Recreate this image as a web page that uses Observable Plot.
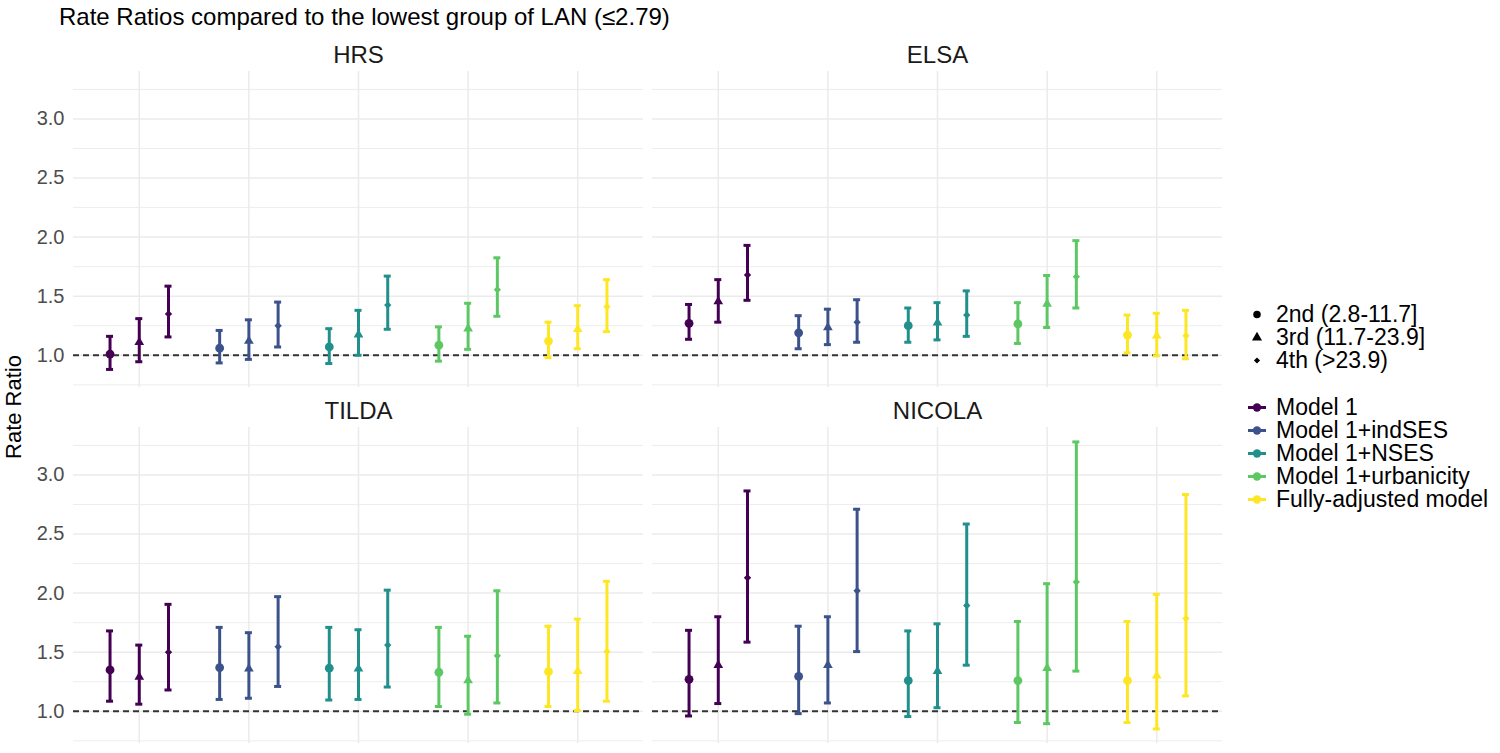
<!DOCTYPE html>
<html><head><meta charset="utf-8">
<script src="https://cdn.jsdelivr.net/npm/d3@7"></script>
<script src="https://cdn.jsdelivr.net/npm/@observablehq/plot@0.6"></script>
<style>
body{margin:0;background:#fff;font-family:"Liberation Sans",Arial,sans-serif;}
#wrap{position:relative;width:1500px;height:753px;overflow:hidden;background:#fff}
#title{height:36px;line-height:34px;padding-left:59px;font-size:24px;color:#000;white-space:nowrap}
#ylab{position:absolute;left:14px;top:407px;transform:translate(-50%,-50%) rotate(-90deg);font-size:22px;color:#000;white-space:nowrap}
.leg{position:absolute;left:1245px;font-size:23px;color:#000}
.row{height:23px;display:flex;align-items:center;white-space:nowrap}
.row svg{flex:none;margin-right:7px}
</style></head>
<body><div id="wrap">
<div id="title">Rate Ratios compared to the lowest group of LAN (≤2.79)</div>
<div id="chart"></div>
<div id="ylab">Rate Ratio</div>
<div id="leg1" class="leg" style="top:303px"></div>
<div id="leg2" class="leg" style="top:396px"></div>
</div>
<script>
// ---- data ----
const cohorts = ["HRS", "ELSA", "TILDA", "NICOLA"];
const models = ["Model 1", "Model 1+indSES", "Model 1+NSES", "Model 1+urbanicity", "Fully-adjusted model"];
const quartiles = ["2nd (2.8-11.7]", "3rd (11.7-23.9]", "4th (>23.9)"];
const modelColors = ["#440154", "#3B528B", "#21908C", "#5DC863", "#FDE725"];
const yTicks = [1.0, 1.5, 2.0, 2.5, 3.0];
const yMinorTicks = [0.75, 1.25, 1.75, 2.25, 2.75, 3.25];

// rows = models, columns = quartiles (2nd, 3rd, 4th)
const hrsEst = [[1.01, 1.11, 1.35], [1.06, 1.12, 1.25], [1.07, 1.175, 1.425], [1.085, 1.225, 1.555], [1.12, 1.22, 1.41]];
const hrsLo  = [[0.88, 0.945, 1.155], [0.935, 0.965, 1.07], [0.93, 1.00, 1.22], [0.95, 1.05, 1.33], [0.98, 1.055, 1.20]];
const hrsHi  = [[1.16, 1.31, 1.585], [1.21, 1.30, 1.45], [1.225, 1.38, 1.67], [1.24, 1.44, 1.825], [1.28, 1.42, 1.64]];

const elsaEst = [[1.27, 1.455, 1.68], [1.19, 1.235, 1.28], [1.25, 1.275, 1.34], [1.265, 1.435, 1.665], [1.17, 1.165, 1.165]];
const elsaLo  = [[1.135, 1.28, 1.465], [1.055, 1.09, 1.11], [1.11, 1.13, 1.16], [1.10, 1.235, 1.40], [1.02, 0.995, 0.97]];
const elsaHi  = [[1.43, 1.64, 1.93], [1.335, 1.39, 1.47], [1.40, 1.445, 1.545], [1.445, 1.675, 1.97], [1.34, 1.355, 1.38]];

const tildaEst = [[1.35, 1.29, 1.50], [1.37, 1.36, 1.545], [1.365, 1.36, 1.56], [1.33, 1.26, 1.47], [1.335, 1.34, 1.505]];
const tildaLo  = [[1.085, 1.06, 1.18], [1.10, 1.11, 1.21], [1.095, 1.10, 1.205], [1.04, 0.975, 1.07], [1.04, 1.005, 1.085]];
const tildaHi  = [[1.68, 1.56, 1.905], [1.71, 1.665, 1.97], [1.71, 1.69, 2.025], [1.71, 1.635, 2.02], [1.72, 1.78, 2.10]];

const nicolaEst = [[1.27, 1.39, 2.13], [1.295, 1.39, 2.02], [1.26, 1.34, 1.895], [1.26, 1.365, 2.095], [1.26, 1.30, 1.785]];
const nicolaLo  = [[0.96, 1.065, 1.585], [0.98, 1.07, 1.505], [0.955, 1.03, 1.39], [0.905, 0.895, 1.34], [0.905, 0.85, 1.13]];
const nicolaHi  = [[1.685, 1.80, 2.865], [1.72, 1.80, 2.71], [1.68, 1.74, 2.585], [1.76, 2.08, 3.28], [1.76, 1.99, 2.835]];

const cohortData = [
  [hrsEst, hrsLo, hrsHi],
  [elsaEst, elsaLo, elsaHi],
  [tildaEst, tildaLo, tildaHi],
  [nicolaEst, nicolaLo, nicolaHi]
];

// ---- build table ----
const dodge = 0.8 / 3;
const rows = [];
cohorts.forEach((c, ci) => {
  const [E, L, H] = cohortData[ci];
  models.forEach((m, mi) => {
    quartiles.forEach((q, qi) => {
      rows.push({cohort: c, col: ci % 2, row: Math.floor(ci / 2), model: m, q, qi,
        x: mi + (qi - 1) * dodge, est: E[mi][qi], lo: L[mi][qi], hi: H[mi][qi]});
    });
  });
});
const panels = cohorts.map((c, ci) => ({cohort: c, col: ci % 2, row: Math.floor(ci / 2)}));
const capHalf = 0.032;
const symbolSpec = [
  {symbol: "circle", r: 4.4},
  {symbol: "triangle", r: 3.6},
  {symbol: "diamond2", r: 3.3}
];

const chart = Plot.plot({
  width: 1500, height: 717,
  marginLeft: 72, marginRight: 277, marginTop: 34, marginBottom: 9,
  style: {fontFamily: "'Liberation Sans', Arial, sans-serif", background: "transparent"},
  x: {domain: [-0.6, 4.6], axis: null},
  y: {domain: [0.727, 3.402], axis: null},
  fx: {domain: [0, 1], paddingInner: 0.0155, paddingOuter: 0, axis: null},
  fy: {domain: [0, 1], paddingInner: 0.112, paddingOuter: 0, axis: null},
  color: {domain: models, range: modelColors},
  marks: [
    Plot.gridY(yMinorTicks, {stroke: "#ebebeb", strokeOpacity: 1, strokeWidth: 0.9}),
    Plot.gridY(yTicks, {stroke: "#ebebeb", strokeOpacity: 1, strokeWidth: 1.5}),
    Plot.gridX(d3.range(models.length), {stroke: "#ebebeb", strokeOpacity: 1, strokeWidth: 1.5}),
    Plot.ruleY([1], {stroke: "#333333", strokeWidth: 1.8, strokeDasharray: "6,4"}),
    Plot.ruleX(rows, {x: "x", y1: "lo", y2: "hi", stroke: "model", strokeWidth: 3, fx: "col", fy: "row"}),
    Plot.ruleY(rows, {y: "lo", x1: d => d.x - capHalf, x2: d => d.x + capHalf, stroke: "model", strokeWidth: 3, fx: "col", fy: "row"}),
    Plot.ruleY(rows, {y: "hi", x1: d => d.x - capHalf, x2: d => d.x + capHalf, stroke: "model", strokeWidth: 3, fx: "col", fy: "row"}),
    ...symbolSpec.map((s, qi) => Plot.dot(rows.filter(d => d.qi === qi), {
      x: "x", y: "est", fill: "model", stroke: "none", symbol: s.symbol, r: s.r, fx: "col", fy: "row"
    })),
    Plot.axisY({ticks: yTicks, tickFormat: d3.format(".1f"), tickSize: 0, tickPadding: 9, fontSize: 20, color: "#4d4d4d", label: null}),
    Plot.text(panels, {fx: "col", fy: "row", text: "cohort", frameAnchor: "top", lineAnchor: "middle", dy: -16, fontSize: 24, fill: "#1a1a1a"})
  ]
});
document.getElementById("chart").appendChild(chart);

// ---- legends ----
const leg1 = d3.select("#leg1");
const legSyms = [d3.symbolCircle, d3.symbolTriangle, d3.symbolDiamond2];
const legSizes = [44, 44, 24];
quartiles.forEach((q, i) => {
  const r = leg1.append("div").attr("class", "row");
  const s = r.append("svg").attr("width", 24).attr("height", 23);
  s.append("path").attr("transform", "translate(12,11.5)").attr("d", d3.symbol(legSyms[i], legSizes[i])()).attr("fill", "#000");
  r.append("span").text(q);
});
const leg2 = d3.select("#leg2");
models.forEach((m, i) => {
  const r = leg2.append("div").attr("class", "row");
  const s = r.append("svg").attr("width", 24).attr("height", 23);
  s.append("line").attr("x1", 3).attr("x2", 21).attr("y1", 11.5).attr("y2", 11.5).attr("stroke", modelColors[i]).attr("stroke-width", 3);
  s.append("circle").attr("cx", 12).attr("cy", 11.5).attr("r", 4.2).attr("fill", modelColors[i]);
  r.append("span").text(m);
});
</script>
</body></html>
